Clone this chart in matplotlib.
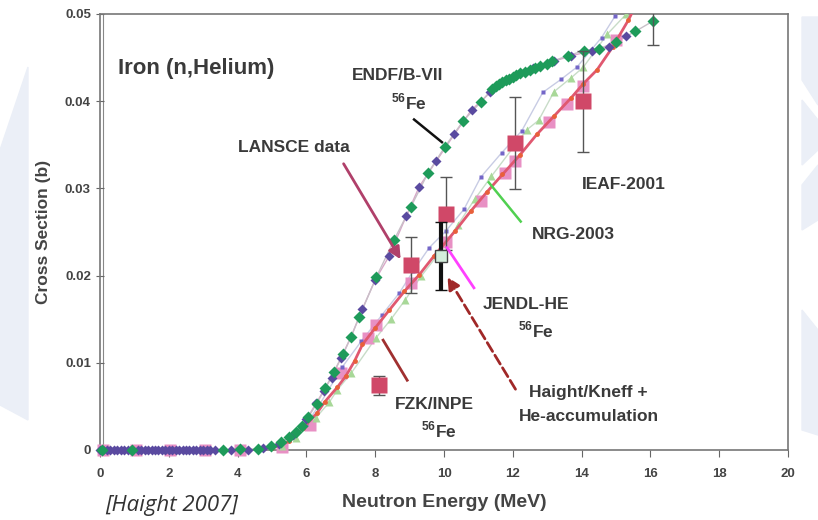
import matplotlib
matplotlib.use("Agg")
import matplotlib.pyplot as plt
from matplotlib.patches import Polygon, Rectangle

plt.rcParams['font.family'] = ['Liberation Sans', 'DejaVu Sans']
plt.rcParams['font.weight'] = 'bold'
plt.rcParams['axes.labelweight'] = 'bold'
plt.rcParams['mathtext.fontset'] = 'custom'
plt.rcParams['mathtext.rm'] = 'Liberation Sans:bold'
plt.rcParams['mathtext.bf'] = 'Liberation Sans:bold'

# ENDF/B-VII 56Fe, green diamonds
green_x = [0.05, 0.93, 3.57, 4.06, 4.58, 4.98, 5.25, 5.5, 5.7, 5.86, 6.06, 6.3, 6.55, 6.8, 7.07,
           7.3, 7.54, 8.03, 8.55, 9.04, 9.54, 10.03, 10.55, 11.07, 11.4, 11.5, 11.6, 11.7, 11.8,
           11.9, 12.0, 12.1, 12.2, 12.35, 12.5, 12.65, 12.8, 13.0, 13.15, 13.6, 14.06, 14.5,
           15.0, 15.56, 16.08]
green_y = [0.0, 0.0, 0.0, 0.0001, 0.0001, 0.0005, 0.0009, 0.0015, 0.0021, 0.0028, 0.0038, 0.0053,
           0.0071, 0.009, 0.011, 0.013, 0.0153, 0.0198, 0.0241, 0.0279, 0.0318, 0.0348, 0.0377,
           0.0399, 0.0414, 0.0417, 0.042, 0.0422, 0.0424, 0.0426, 0.0428, 0.043, 0.0432, 0.0434,
           0.0436, 0.0438, 0.044, 0.0443, 0.0446, 0.0452, 0.0458, 0.046, 0.0468, 0.048, 0.0492]
green_last_err = 0.0027

# second evaluation, purple diamonds
purple_x = [0.0, 0.1, 0.2, 0.3, 0.4, 0.5, 0.6, 0.7, 0.8, 0.9, 1.1, 1.2, 1.3, 1.4, 1.5, 1.6, 1.7,
            1.8, 1.9, 2.0, 2.1, 2.2, 2.3, 2.4, 2.5, 2.6, 2.7, 2.8, 2.9, 3.0, 3.1, 3.2, 3.35, 3.8,
            4.3, 4.75, 5.2, 5.6, 6.0, 6.29, 6.5, 6.73, 7.0, 7.3, 7.63, 8.0, 8.4, 8.9, 9.28, 9.77,
            10.3, 10.8, 11.35, 12.0, 12.6, 13.2, 13.7, 14.3, 14.8, 15.3]
purple_y = [0.0, 0.0, 0.0, 0.0, 0.0, 0.0, 0.0, 0.0, 0.0, 0.0, 0.0, 0.0, 0.0, 0.0, 0.0, 0.0, 0.0,
            0.0, 0.0, 0.0, 0.0, 0.0, 0.0, 0.0, 0.0, 0.0, 0.0, 0.0, 0.0, 0.0, 0.0, 0.0, 0.0, 0.0,
            0.0, 0.0002, 0.0007, 0.0017, 0.0035, 0.0054, 0.0068, 0.0083, 0.0105, 0.013, 0.0162,
            0.0195, 0.0222, 0.0268, 0.0302, 0.0331, 0.0362, 0.039, 0.041, 0.0428, 0.0438, 0.0446,
            0.0452, 0.0458, 0.0462, 0.0475]

# pink squares
pink_x = [0.1, 1.05, 2.03, 3.04, 4.06, 5.3, 6.1, 7.0, 7.8, 8.03, 9.04, 10.05, 11.07, 11.77,
          12.06, 13.04, 13.57, 14.03, 15.0]
pink_y = [0.0, 0.0, 0.0, 0.0, 0.0, 0.0003, 0.0029, 0.0088, 0.0129, 0.0143, 0.0192, 0.0238,
          0.0285, 0.0318, 0.0331, 0.0376, 0.0397, 0.0418, 0.047]

# FZK/INPE 56Fe, red line with dots
red_x = [5.0, 5.5, 5.9, 6.3, 6.53, 6.9, 7.15, 7.4, 7.63, 8.0, 8.4, 8.85, 9.28, 9.7, 10.32, 10.78,
         11.25, 11.7, 12.2, 12.7, 13.2, 13.7, 14.05, 14.45, 14.9, 15.36, 15.7]
red_y = [0.0002, 0.001, 0.0025, 0.0042, 0.0055, 0.0072, 0.0085, 0.0102, 0.0121, 0.014, 0.016,
         0.0182, 0.0201, 0.0222, 0.0251, 0.0274, 0.0296, 0.0316, 0.0338, 0.0362, 0.0383, 0.0404,
         0.042, 0.0436, 0.0462, 0.0493, 0.052]

# NRG-2003, light green triangles
tri_x = [5.3, 5.7, 6.28, 6.67, 6.9, 7.3, 8.03, 8.46, 8.87, 9.33, 9.9, 10.4, 10.9, 11.38, 12.4,
         12.75, 13.2, 13.7, 14.05, 14.75, 15.3]
tri_y = [0.0005, 0.0014, 0.0037, 0.0055, 0.0069, 0.0088, 0.0129, 0.015, 0.0172, 0.0199, 0.0228,
         0.0258, 0.0288, 0.0314, 0.0367, 0.0378, 0.0411, 0.0427, 0.0439, 0.0477, 0.05]

# small purple squares
sq_x = [5.5, 6.0, 6.38, 7.04, 7.6, 8.2, 8.7, 9.1, 9.57, 10.05, 10.58, 11.07, 11.68, 12.26,
        12.87, 13.4, 13.86, 14.58, 14.98]
sq_y = [0.0012, 0.003, 0.0052, 0.0095, 0.0125, 0.0155, 0.018, 0.0205, 0.0232, 0.0251, 0.0276,
        0.0313, 0.0341, 0.0366, 0.041, 0.0425, 0.0439, 0.0473, 0.0498]

# LANSCE data
lan_x = [8.1, 9.05, 10.05, 12.05, 14.05]
lan_y = [0.0074, 0.0212, 0.0271, 0.0352, 0.040]
lan_err = [0.0011, 0.0032, 0.0042, 0.0053, 0.0058]

# Haight/Kneff + He-accumulation
hk_x = [9.92]
hk_y = [0.0223]
hk_err = [0.0039]

W, H = 818, 520
fig = plt.figure(figsize=(W / 100, H / 100), dpi=100)
ax = fig.add_axes([100 / W, 1 - 450 / H, 688 / W, 436 / H])

ax.plot(purple_x, purple_y, '-', color='#d8a8c8', lw=1, zorder=2)
ax.plot(green_x, green_y, '-', color='#c8c0c8', lw=1, zorder=2)
ax.plot(sq_x, sq_y, '-', color='#c8cce4', lw=1, zorder=2)
ax.plot(tri_x, tri_y, '-', color='#c8dcc8', lw=1, zorder=2)
ax.plot(pink_x, pink_y, 's', color='#e890c4', ms=8, mec='none', zorder=3, clip_on=False)
ax.plot(tri_x, tri_y, '^', color='#a8d898', ms=6, mec='none', zorder=3)
ax.plot(sq_x, sq_y, 's', color='#7466c8', ms=3, mec='none', zorder=4)
ax.plot(red_x, red_y, '-', color='#e05870', lw=2, zorder=4)
ax.plot(red_x, red_y, 'o', color='#e8603a', ms=3.5, mec='none', zorder=5)
ax.plot(purple_x, purple_y, 'D', color='#5a4aa0', ms=5.5, mec='none', zorder=5, clip_on=False)
ax.plot(green_x, green_y, 'D', color='#1e9b5a', ms=6, mec='none', zorder=6, clip_on=False)
ax.errorbar(green_x[-1:], green_y[-1:], yerr=green_last_err, fmt='none', ecolor='#555555',
            elinewidth=1, capsize=4, zorder=6)
ax.errorbar(lan_x, lan_y, yerr=lan_err, fmt='s', color='#d04868', ms=11, mec='none',
            ecolor='#555555', elinewidth=1, capsize=4, zorder=7)
ax.errorbar(hk_x, hk_y, yerr=hk_err, fmt='s', color='#d4eedc', ms=9, mec='#444444', mew=1,
            ecolor='#111111', elinewidth=3, capsize=4, capthick=2, zorder=8)

ax.set_xlim(0, 20)
ax.set_ylim(0, 0.05)
ax.set_xticks([0, 2, 4, 6, 8, 10, 12, 14, 16, 18, 20])
ax.set_yticks([0, 0.01, 0.02, 0.03, 0.04, 0.05])
ax.set_yticklabels(['0', '0.01', '0.02', '0.03', '0.04', '0.05'])
ax.tick_params(axis='both', colors='#666666', labelcolor='#444444', labelsize=9.5, length=5)
ax.tick_params(axis='y', direction='inout', length=6)
ax.tick_params(axis='x', pad=8)
for lab in ax.get_xticklabels() + ax.get_yticklabels():
    lab.set_fontweight('bold')
for s in ax.spines.values():
    s.set_color('#777777')
    s.set_linewidth(1.2)
ax.axvline(0.1, color='#888888', lw=0.8, zorder=1)
ax.set_xlabel('Neutron Energy (MeV)', fontsize=14, fontweight='bold', color='#444444',
              labelpad=10)
ax.set_ylabel('Cross Section (b)', fontsize=12.5, fontweight='bold', color='#444444',
              labelpad=10)

tc = '#3a3a3a'
ax.text(0.52, 0.0437, 'Iron (n,Helium)', fontsize=16, color=tc, va='center', ha='left')
ax.text(8.64, 0.0429, 'ENDF/B-VII', fontsize=12.5, color=tc, ha='center', va='center')
ax.text(8.99, 0.0399, r'$^{56}$Fe', fontsize=12.5, color=tc, ha='center', va='center')
ax.text(5.65, 0.0347, 'LANSCE data', fontsize=12.5, color=tc, ha='center', va='center')
ax.text(15.22, 0.0305, 'IEAF-2001', fontsize=12.5, color=tc, ha='center', va='center')
ax.text(13.77, 0.0247, 'NRG-2003', fontsize=12.5, color=tc, ha='center', va='center')
ax.text(12.38, 0.0167, 'JENDL-HE', fontsize=12.5, color=tc, ha='center', va='center')
ax.text(12.67, 0.0138, r'$^{56}$Fe', fontsize=12.5, color=tc, ha='center', va='center')
ax.text(9.71, 0.0052, 'FZK/INPE', fontsize=12.5, color=tc, ha='center', va='center')
ax.text(9.86, 0.0023, r'$^{56}$Fe', fontsize=12.5, color=tc, ha='center', va='center')
ax.text(14.2, 0.0066, 'Haight/Kneff +', fontsize=12.5, color=tc, ha='center', va='center')
ax.text(14.2, 0.0038, 'He-accumulation', fontsize=12.5, color=tc, ha='center', va='center')

ax.plot([9.13, 9.94], [0.0379, 0.0353], color='#111111', lw=1.8, zorder=9)
ax.annotate('', xy=(8.78, 0.0216), xytext=(7.04, 0.0331),
            arrowprops=dict(arrowstyle='-|>', color='#b0406a', lw=2, mutation_scale=18), zorder=9)
ax.plot([12.23, 11.3], [0.0262, 0.0307], color='#50d050', lw=1.8, zorder=9)
ax.plot([10.87, 10.09], [0.0186, 0.0232], color='#ff40ff', lw=2, zorder=9)
ax.plot([8.93, 8.23], [0.008, 0.0126], color='#a03030', lw=2, zorder=9)
ax.annotate('', xy=(10.06, 0.0201), xytext=(12.12, 0.0067),
            arrowprops=dict(arrowstyle='-|>', color='#a02828', lw=2, ls='--', mutation_scale=18),
            zorder=9)

# slide background to the right of the pasted chart
fig.patches.append(Rectangle((796 / W, 0), 22 / W, 1, transform=fig.transFigure,
                             color='white', zorder=10))
wm = '#ebeff7'
for pts in [
    [(28, 67), (28, 420), (0, 405), (0, 150)],
    [(802, 17), (818, 17), (818, 105), (802, 80)],
    [(802, 100), (818, 120), (818, 150), (802, 165)],
    [(802, 185), (818, 165), (818, 220), (802, 230)],
    [(802, 310), (818, 330), (818, 435), (802, 430)],
]:
    fig.patches.append(Polygon([(x / W, 1 - y / H) for x, y in pts], closed=True,
                               transform=fig.transFigure, color=wm, zorder=11))

fig.text(105 / W, 1 - 505 / H, '[Haight 2007]', fontsize=16, style='italic', weight='normal',
         color='#333333', family=['Open Sans', 'DejaVu Sans'], va='center', ha='left')

fig.savefig('out.png', dpi=100)
